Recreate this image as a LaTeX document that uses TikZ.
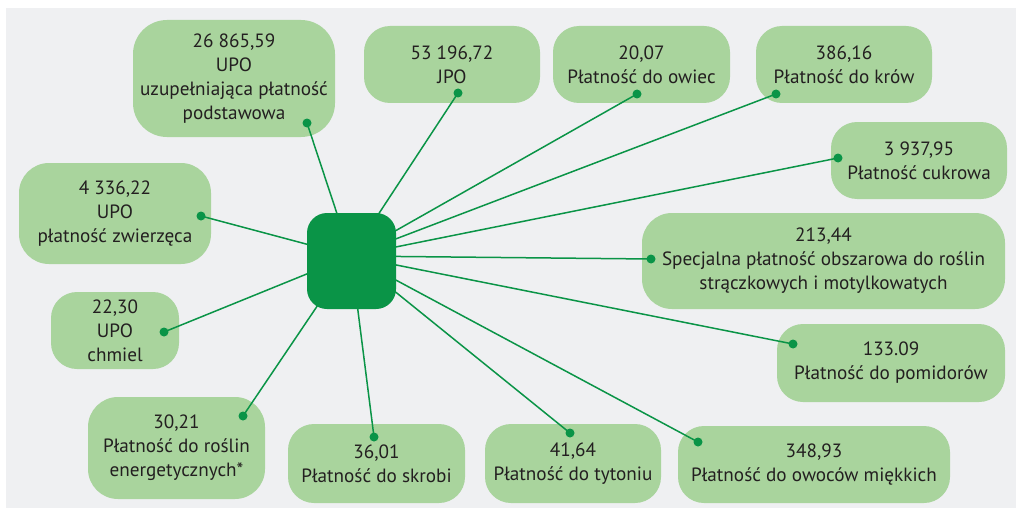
\documentclass[tikz,border=0pt]{standalone}
\usepackage{fontspec}
\setmainfont{PT Sans}
\definecolor{bg}{HTML}{EFF0F2}
\definecolor{boxfill}{HTML}{A9D49D}
\definecolor{hubgreen}{HTML}{0A9447}
\definecolor{txt}{HTML}{231F20}
\begin{document}
\begin{tikzpicture}[x=1pt,y=-1pt,
  box/.style={fill=boxfill, rounded corners=26pt, align=center, text=txt,
    inner sep=0pt, font=\fontsize{19.2}{24}\selectfont},
  link/.style={draw=hubgreen, line width=1.5pt},
  dot/.style={circle, fill=hubgreen, inner sep=0pt, minimum size=9pt},
  hubbox/.style={fill=hubgreen, rounded corners=20pt, inner sep=0pt,
    minimum width=89pt, minimum height=96pt}]
\useasboundingbox (0,0) rectangle (1016,508);
\fill[bg] (6,8) rectangle (1016,508);
% boxes
\node[box, minimum width=202pt, minimum height=117pt, rounded corners=34pt] (b1) at (234,78.5) {26 865,59\\UPO\\uzupełniająca płatność\\podstawowa};
\node[box, minimum width=176pt, minimum height=77pt] (b2) at (452,64.5) {53 196,72\\JPO};
\node[box, minimum width=177pt, minimum height=77pt] (b3) at (641.5,64.5) {20,07\\Płatność do owiec};
\node[box, minimum width=176pt, minimum height=77pt] (b4) at (844,64.5) {386,16\\Płatność do krów};
\node[box, minimum width=176pt, minimum height=77pt] (b5) at (919,160.5) {3 937,95\\Płatność cukrowa};
\node[box, minimum width=363pt, minimum height=96pt, rounded corners=30pt] (b6) at (823.5,261) {213,44\\Specjalna płatność obszarowa do roślin\\strączkowych i motylkowatych};
\node[box, minimum width=228pt, minimum height=78pt] (b7) at (891,363) {133.09\\Płatność do pomidorów};
\node[box, minimum width=272pt, minimum height=77pt] (b8) at (814,464.5) {348,93\\Płatność do owoców miękkich};
\node[box, minimum width=176pt, minimum height=79pt] (b9) at (573,463.5) {41,64\\Płatność do tytoniu};
\node[box, minimum width=177pt, minimum height=79pt] (b10) at (376.5,463.5) {36,01\\Płatność do skrobi};
\node[box, minimum width=177pt, minimum height=102pt, rounded corners=30pt] (b11) at (176.5,448) {30,21\\Płatność do roślin\\energetycznych*};
\node[box, minimum width=128pt, minimum height=77pt] (b12) at (115,330.5) {22,30\\UPO\\chmiel};
\node[box, minimum width=192pt, minimum height=101pt, rounded corners=30pt] (b13) at (115,213.5) {4 336,22\\UPO\\płatność zwierzęca};
% hub and dot positions
\coordinate (hub) at (351,256);
\coordinate (d1) at (307,123);
\coordinate (d2) at (458,93);
\coordinate (d3) at (637,94);
\coordinate (d4) at (776,94);
\coordinate (d5) at (838,158);
\coordinate (d6) at (651,259);
\coordinate (d7) at (793,344);
\coordinate (d8) at (698,442);
\coordinate (d9) at (570,433);
\coordinate (d10) at (374,437);
\coordinate (d11) at (243,416);
\coordinate (d12) at (164,332);
\coordinate (d13) at (201,216);
\foreach \i in {1,...,13} { \draw[link] (hub) -- (d\i); }
\node[hubbox] (center) at (351.5,261) {};
\foreach \i in {1,...,13} { \node[dot] (p\i) at (d\i) {}; }
\end{tikzpicture}
\end{document}
